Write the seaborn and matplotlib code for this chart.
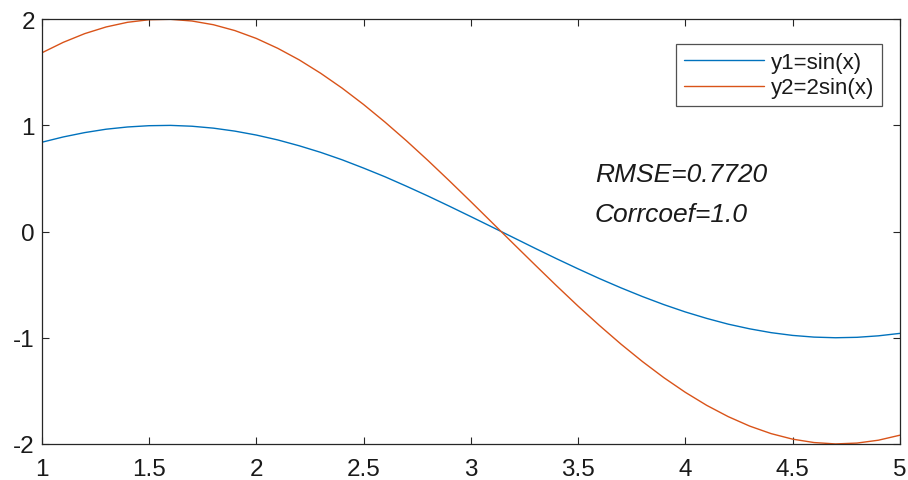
import seaborn as sns
import matplotlib.pyplot as plt
import pandas as pd

# values
x = [1.0, 1.1, 1.2, 1.3, 1.4, 1.5, 1.6, 1.7, 1.8, 1.9,
     2.0, 2.1, 2.2, 2.3, 2.4, 2.5, 2.6, 2.7, 2.8, 2.9,
     3.0, 3.1, 3.2, 3.3, 3.4, 3.5, 3.6, 3.7, 3.8, 3.9,
     4.0, 4.1, 4.2, 4.3, 4.4, 4.5, 4.6, 4.7, 4.8, 4.9, 5.0]
y1 = [0.841, 0.891, 0.932, 0.964, 0.985, 0.997, 1.000, 0.992, 0.974, 0.946,
      0.909, 0.863, 0.808, 0.746, 0.676, 0.598, 0.516, 0.427, 0.335, 0.239,
      0.141, 0.042, -0.058, -0.158, -0.256, -0.351, -0.443, -0.530, -0.612, -0.688,
      -0.757, -0.818, -0.872, -0.916, -0.952, -0.978, -0.994, -1.000, -0.996, -0.982, -0.959]
y2 = [1.683, 1.782, 1.864, 1.927, 1.971, 1.995, 1.999, 1.983, 1.948, 1.893,
      1.819, 1.726, 1.617, 1.491, 1.351, 1.197, 1.031, 0.855, 0.670, 0.478,
      0.282, 0.083, -0.117, -0.315, -0.511, -0.702, -0.885, -1.060, -1.224, -1.376,
      -1.514, -1.637, -1.743, -1.832, -1.903, -1.955, -1.987, -2.000, -1.992, -1.965, -1.918]
labels = ['y1=sin(x)', 'y2=2sin(x)']
colors = ['#0072BD', '#D95319']

sns.set_style('ticks')
plt.rcParams['font.family'] = ['Liberation Sans', 'DejaVu Sans']

df = pd.DataFrame({'x': x * 2,
                   'y': y1 + y2,
                   'series': [labels[0]] * len(x) + [labels[1]] * len(x)})

fig = plt.figure(figsize=(9.08, 4.81), dpi=100)
ax = fig.add_axes([0.046, 0.075, 0.945, 0.883])
sns.lineplot(data=df, x='x', y='y', hue='series', palette=colors,
             linewidth=1.0, ax=ax)

ax.set_xlim(1, 5)
ax.set_ylim(-2, 2)
ax.set_xticks([1, 1.5, 2, 2.5, 3, 3.5, 4, 4.5, 5])
ax.set_xticklabels(['1', '1.5', '2', '2.5', '3', '3.5', '4', '4.5', '5'])
ax.set_yticks([-2, -1, 0, 1, 2])
ax.set_yticklabels(['-2', '-1', '0', '1', '2'])
ax.set_xlabel('')
ax.set_ylabel('')
ax.tick_params(direction='in', length=5, width=0.8, labelsize=17.5,
               top=True, right=True, color='#262626', labelcolor='#1a1a1a')
ax.tick_params(axis='x', pad=10)
ax.tick_params(axis='y', pad=5)
for s in ax.spines.values():
    s.set_color('#262626')
    s.set_linewidth(0.9)

ax.text(3.578, 0.475, 'RMSE=0.7720', style='italic', fontsize=19,
        va='baseline', color='#1a1a1a')
ax.text(3.578, 0.099, 'Corrcoef=1.0', style='italic', fontsize=19,
        va='baseline', color='#1a1a1a')

leg = ax.legend(loc='upper right', bbox_to_anchor=(0.979, 0.941), fontsize=16,
                frameon=True, fancybox=False, edgecolor='#262626',
                handlelength=3.6, handletextpad=0.3, borderpad=0.35,
                labelspacing=0.2, borderaxespad=0)
leg.get_frame().set_linewidth(0.9)
for t in leg.get_texts():
    t.set_color('#1a1a1a')

fig.savefig('out.png', dpi=100)
